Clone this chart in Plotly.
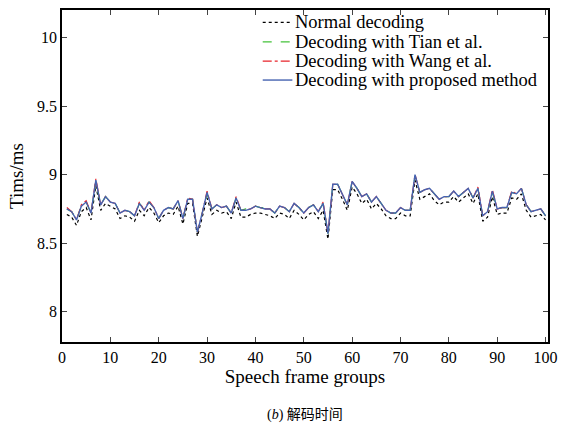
import plotly.graph_objects as go

frames = list(range(1, 101))

proposed = [8.75,8.73,8.67,8.77,8.80,8.72,8.96,8.78,8.84,8.80,
 8.79,8.72,8.74,8.73,8.70,8.79,8.74,8.80,8.76,8.68,
 8.74,8.76,8.75,8.81,8.68,8.82,8.82,8.58,8.72,8.87,
 8.75,8.78,8.76,8.77,8.72,8.83,8.74,8.74,8.75,8.77,
 8.76,8.75,8.75,8.72,8.77,8.76,8.73,8.79,8.76,8.72,
 8.76,8.78,8.73,8.79,8.57,8.93,8.93,8.86,8.78,8.95,
 8.90,8.84,8.86,8.80,8.84,8.79,8.74,8.72,8.72,8.76,
 8.74,8.74,9.00,8.87,8.89,8.90,8.86,8.82,8.84,8.84,
 8.88,8.84,8.87,8.90,8.83,8.90,8.70,8.73,8.88,8.75,
 8.76,8.76,8.87,8.86,8.90,8.78,8.73,8.74,8.75,8.70]

normal = [8.71,8.69,8.63,8.73,8.76,8.67,8.92,8.74,8.79,8.77,
 8.75,8.68,8.70,8.69,8.66,8.74,8.70,8.76,8.72,8.65,
 8.70,8.72,8.71,8.77,8.64,8.79,8.79,8.55,8.68,8.83,
 8.71,8.74,8.72,8.73,8.68,8.80,8.69,8.69,8.71,8.72,
 8.72,8.71,8.70,8.68,8.72,8.71,8.68,8.74,8.71,8.67,
 8.71,8.73,8.68,8.74,8.53,8.89,8.89,8.82,8.74,8.91,
 8.86,8.79,8.82,8.75,8.79,8.75,8.70,8.68,8.68,8.72,
 8.70,8.70,8.96,8.82,8.84,8.86,8.81,8.78,8.80,8.80,
 8.84,8.80,8.83,8.86,8.79,8.86,8.66,8.69,8.84,8.71,
 8.72,8.72,8.83,8.82,8.86,8.74,8.69,8.70,8.71,8.67]

tian = [8.75,8.73,8.67,8.77,8.80,8.72,8.95,8.78,8.84,8.80,
 8.79,8.72,8.74,8.73,8.70,8.79,8.75,8.80,8.76,8.68,
 8.74,8.76,8.75,8.81,8.68,8.82,8.82,8.58,8.72,8.86,
 8.75,8.78,8.76,8.77,8.72,8.83,8.74,8.75,8.75,8.77,
 8.76,8.76,8.75,8.72,8.77,8.76,8.73,8.79,8.76,8.72,
 8.76,8.78,8.73,8.79,8.57,8.93,8.93,8.86,8.78,8.95,
 8.90,8.84,8.86,8.80,8.84,8.79,8.74,8.72,8.72,8.76,
 8.74,8.74,8.99,8.87,8.89,8.90,8.86,8.82,8.84,8.84,
 8.88,8.84,8.87,8.90,8.83,8.90,8.70,8.73,8.87,8.75,
 8.76,8.76,8.87,8.86,8.90,8.78,8.73,8.74,8.75,8.70]

wang = [8.76,8.73,8.67,8.78,8.81,8.72,8.97,8.78,8.84,8.80,
 8.79,8.72,8.74,8.73,8.70,8.80,8.74,8.81,8.76,8.68,
 8.74,8.76,8.75,8.81,8.68,8.83,8.82,8.58,8.72,8.88,
 8.75,8.78,8.76,8.77,8.72,8.84,8.74,8.74,8.75,8.77,
 8.76,8.75,8.75,8.72,8.77,8.76,8.73,8.79,8.76,8.72,
 8.76,8.78,8.73,8.80,8.57,8.93,8.93,8.86,8.78,8.95,
 8.90,8.84,8.86,8.80,8.84,8.79,8.74,8.72,8.72,8.76,
 8.74,8.74,9.00,8.87,8.89,8.90,8.86,8.82,8.84,8.84,
 8.88,8.84,8.87,8.90,8.83,8.91,8.70,8.73,8.89,8.75,
 8.76,8.76,8.88,8.86,8.90,8.78,8.73,8.74,8.75,8.70]

series_names = ["Normal decoding", "Decoding with Tian et al.",
                "Decoding with Wang et al.", "Decoding with proposed method"]
x_ticks = [0, 10, 20, 30, 40, 50, 60, 70, 80, 90, 100]
y_ticks = [8, 8.5, 9, 9.5, 10]
y_ticktext = ["8", "8.5", "9", "9.5", "10"]

serif = "Liberation Serif, Times New Roman, serif"
styles = [dict(color="black", width=1.2, dash="dot"),
          dict(color="#44c23a", width=1.2, dash="dash"),
          dict(color="#e8232a", width=1.2, dash="dashdot"),
          dict(color="#4663b0", width=1.4, dash="solid")]

fig = go.Figure()
for name, ys, st in zip(series_names, [normal, tian, wang, proposed], styles):
    fig.add_trace(go.Scatter(x=frames, y=ys, mode="lines", name=name,
                             line=st, showlegend=False))

# Legend drawn as line samples + text (compact spacing like the reference)
leg_y = [0.963, 0.904, 0.846, 0.789]
for name, st, yy in zip(series_names, styles, leg_y):
    fig.add_shape(type="line", xref="paper", yref="paper",
                  x0=0.413, x1=0.474, y0=yy, y1=yy, line=st)
    fig.add_annotation(text=name, xref="paper", yref="paper", x=0.476, y=yy,
                       xanchor="left", yanchor="middle", showarrow=False,
                       font=dict(size=18.5, family=serif, color="black"))

fig.update_layout(
    width=568, height=427,
    margin=dict(l=62, r=20, t=8, b=85),
    plot_bgcolor="white", paper_bgcolor="white",
    font=dict(family=serif, size=16, color="black"),
    showlegend=False,
)
fig.update_xaxes(range=[0, 100.5], tickvals=x_ticks, ticks="inside", ticklen=5,
                 showline=True, linecolor="black", linewidth=1.5, mirror="ticks",
                 showgrid=False, zeroline=False,
                 title=dict(text="Speech frame groups", standoff=5))
fig.update_yaxes(range=[7.78, 10.2], tickvals=y_ticks, ticktext=y_ticktext,
                 ticks="inside", ticklen=5,
                 showline=True, linecolor="black", linewidth=1.5, mirror="ticks",
                 showgrid=False, zeroline=False,
                 title=dict(text="Tims/ms", standoff=8))
fig.add_annotation(text="(<i>b</i>) <span style='font-family:Noto Sans CJK SC'>解码时间</span>",
                   xref="paper", yref="paper", x=0.5, y=0, yshift=-59, yanchor="top",
                   showarrow=False, font=dict(size=14, family=serif))

fig.write_html("out.html")
